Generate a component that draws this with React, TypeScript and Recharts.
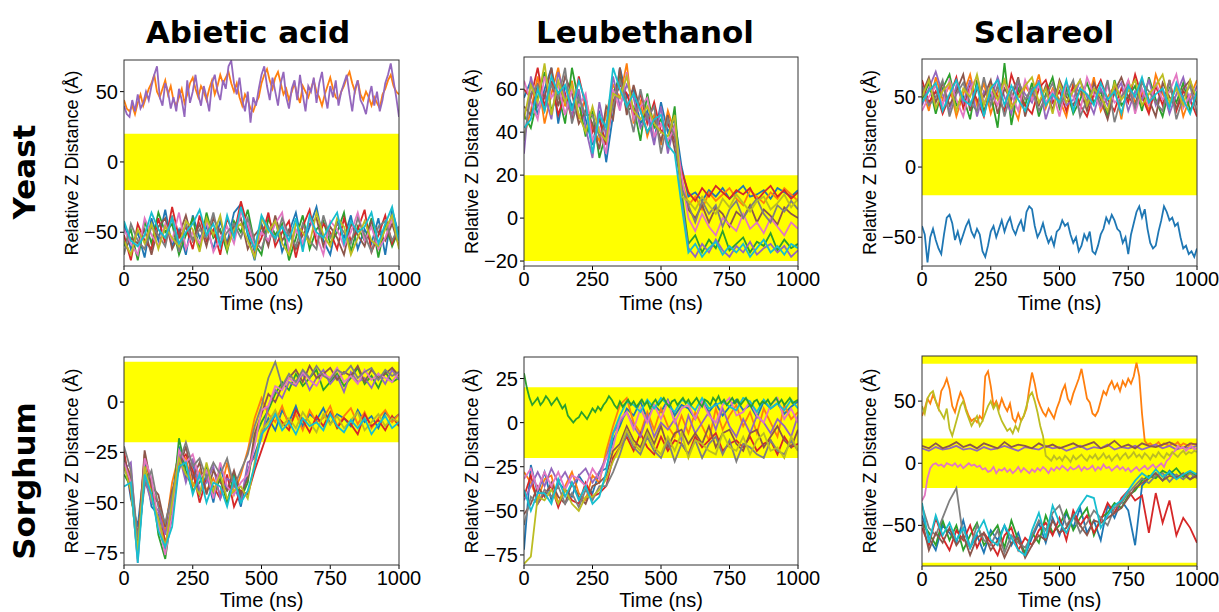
import { LineChart, Line, XAxis, YAxis, ReferenceArea } from "recharts";

// time axes (ns): coarse for the dense bundles, fine for the lone traces
const TIME = [
  0, 25, 50, 75, 100, 125, 150, 175, 200, 225, 250, 275, 300, 325, 350, 375, 400, 425, 450, 475,
  500, 525, 550, 575, 600, 625, 650, 675, 700, 725, 750, 775, 800, 825, 850, 875, 900, 925, 950, 975, 1000,
];
const TIME_FINE = [
  0, 10, 20, 30, 40, 50, 60, 70, 80, 90, 100, 110, 120, 130, 140, 150, 160, 170, 180, 190,
  200, 210, 220, 230, 240, 250, 260, 270, 280, 290, 300, 310, 320, 330, 340, 350, 360, 370, 380, 390,
  400, 410, 420, 430, 440, 450, 460, 470, 480, 490, 500, 510, 520, 530, 540, 550, 560, 570, 580, 590,
  600, 610, 620, 630, 640, 650, 660, 670, 680, 690, 700, 710, 720, 730, 740, 750, 760, 770, 780, 790,
  800, 810, 820, 830, 840, 850, 860, 870, 880, 890, 900, 910, 920, 930, 940, 950, 960, 970, 980, 990, 1000,
];
const X_TICKS = [0, 250, 500, 750, 1000];

const COLS = ["Abietic acid", "Leubethanol", "Sclareol"];
const ROWS = ["Yeast", "Sorghum"];

const TAB = {
  blue: "#1f77b4", orange: "#ff7f0e", green: "#2ca02c", red: "#d62728", purple: "#9467bd",
  brown: "#8c564b", pink: "#e377c2", gray: "#7f7f7f", olive: "#bcbd22", cyan: "#17becf",
};

// ---- Yeast / Abietic acid
const yaOrange = [
  44,38,36,40,34,42,48,40,46,52, 56,62,50,46,52,58,48,54,44,40, 46,52,42,48,56,60,52,46,54,50,
  44,52,58,48,54,62,56,60,64,56, 50,56,46,40,48,44,38,36,42,46, 56,62,66,58,52,60,64,56,48,52,
  44,50,56,48,42,54,50,46,52,58, 50,46,40,48,54,60,52,46,44,50, 54,60,64,56,50,58,48,44,50,46,
  40,46,42,38,48,52,58,62,54,50, 48,
];
const yaPurple = [
  40,34,32,44,36,48,38,42,50,44, 54,62,68,46,40,56,50,38,46,36, 52,44,32,58,42,50,62,48,40,54,
  46,36,56,62,50,44,58,52,68,72, 56,48,60,44,36,50,28,46,40,52, 62,68,54,44,60,50,40,56,64,46,
  38,52,58,44,62,48,36,54,50,60, 42,56,64,48,38,54,46,58,40,50, 56,62,48,36,52,58,44,40,34,46,
  54,40,50,36,44,56,62,70,58,46, 32,
];
const yaBlue = [-44,-62,-50,-68,-40,-56,-34,-60,-48,-66,-38,-54,-46,-62,-42,-58,-36,-30,-52,-70,-44,-58,-40,-64,-50,-36,-60,-46,-32,-56,-66,-42,-54,-38,-62,-48,-58,-40,-66,-34,-52];
const yaGreen = [-60,-48,-70,-42,-58,-36,-50,-44,-66,-52,-40,-62,-36,-54,-48,-64,-42,-50,-34,-58,-66,-40,-52,-44,-70,-54,-38,-62,-48,-42,-58,-50,-36,-64,-46,-56,-40,-68,-44,-60,-48];
const yaRed = [-52,-70,-44,-56,-62,-40,-58,-32,-54,-46,-62,-38,-56,-48,-66,-40,-52,-28,-46,-64,-54,-36,-60,-50,-42,-68,-46,-34,-58,-44,-50,-62,-40,-56,-48,-34,-64,-52,-38,-58,-46];
const yaBrown = [-64,-54,-58,-48,-66,-46,-40,-62,-52,-38,-56,-44,-60,-40,-50,-58,-46,-40,-62,-52,-46,-60,-38,-56,-48,-62,-52,-44,-40,-60,-46,-54,-66,-44,-52,-60,-42,-50,-56,-44,-60];
const yaPink = [-48,-58,-66,-40,-52,-60,-44,-56,-36,-62,-50,-58,-42,-64,-54,-46,-58,-36,-44,-60,-50,-56,-44,-36,-64,-48,-58,-40,-52,-66,-42,-48,-60,-50,-36,-56,-46,-62,-54,-40,-56];
const yaGray = [-66,-44,-56,-62,-46,-52,-60,-38,-64,-44,-56,-48,-54,-36,-58,-50,-44,-54,-40,-56,-62,-46,-56,-40,-52,-60,-44,-56,-62,-38,-54,-44,-50,-58,-40,-52,-64,-46,-42,-56,-46];
const yaOlive = [-56,-66,-48,-58,-44,-62,-46,-54,-60,-42,-48,-64,-40,-52,-38,-62,-48,-44,-56,-68,-40,-50,-42,-58,-66,-44,-50,-58,-36,-52,-60,-40,-46,-66,-54,-42,-56,-60,-48,-38,-62];
const yaCyan = [-42,-56,-60,-52,-36,-48,-54,-40,-58,-50,-44,-34,-52,-44,-60,-38,-54,-32,-50,-62,-38,-48,-54,-46,-56,-40,-64,-38,-50,-54,-44,-36,-58,-42,-50,-46,-36,-58,-44,-32,-56];

// ---- Yeast / Leubethanol
const ylBlue = [56,64,48,60,70,44,62,52,58,46,34,50,26,48,70,56,60,44,50,36,54,40,46,24,10,12,8,13,10,14,9,12,15,10,11,13,9,14,12,10,13];
const ylOrange = [38,50,66,44,58,70,52,64,46,56,42,36,48,62,56,72,44,54,38,48,34,50,40,18,6,10,4,12,8,11,14,9,6,13,10,7,12,9,14,11,8];
const ylGreen = [48,42,56,68,50,58,44,70,54,38,50,28,40,58,66,50,52,36,58,42,46,32,52,12,-12,-8,-16,-10,-14,-6,-15,-12,-9,-16,-11,-13,-7,-15,-10,-14,-12];
const ylRed = [60,56,70,52,64,48,58,46,66,52,40,46,34,54,62,58,48,58,44,54,40,44,36,22,12,8,14,10,15,12,9,13,11,14,8,12,15,10,13,9,12];
const ylPurple = [30,66,52,58,46,68,56,48,60,42,28,54,38,66,52,62,56,42,48,34,52,30,44,8,-14,-18,-12,-16,-10,-15,-18,-13,-16,-11,-17,-14,-12,-16,-13,-18,-15];
const ylBrown = [52,48,62,56,70,52,66,58,44,50,44,32,52,46,70,48,62,50,40,46,36,48,32,16,4,0,6,-2,5,2,-4,3,0,6,-2,4,1,-3,5,2,0];
const ylPink = [64,54,46,66,56,62,48,60,52,58,36,42,30,60,50,68,46,52,56,38,44,36,42,20,0,-6,2,-4,-8,0,-3,-6,2,-5,-2,-7,0,-4,-8,-2,-5];
const ylGray = [36,58,62,50,62,56,70,44,56,48,48,38,44,52,64,54,40,60,46,52,30,46,38,14,6,-2,8,2,6,-4,4,8,0,5,9,2,-2,6,3,8,4];
const ylOlive = [46,62,54,72,48,64,54,62,48,40,52,40,36,58,56,66,50,46,52,44,40,38,48,10,8,4,10,6,2,9,5,11,7,3,8,10,4,7,11,5,9];
const ylCyan = [42,46,60,50,66,58,62,50,64,54,30,48,42,70,60,52,58,50,40,46,48,34,30,6,-16,-12,-18,-14,-11,-17,-13,-16,-12,-18,-14,-10,-16,-13,-17,-12,-14];

// ---- Yeast / Sclareol
const ysBlue = [
  -42,-48,-68,-50,-44,-52,-58,-62,-48,-36, -34,-40,-52,-46,-54,-48,-42,-38,-46,-50, -44,-48,-60,-64,-56,-46,-42,-50,-44,-38,
  -46,-40,-36,-44,-48,-42,-38,-46,-32,-28, -30,-42,-50,-46,-40,-48,-54,-50,-56,-46, -44,-38,-42,-40,-48,-54,-50,-60,-56,-48,
  -52,-46,-60,-62,-56,-48,-44,-36,-40,-34, -38,-44,-46,-54,-50,-62,-48,-40,-32,-28, -36,-30,-44,-54,-58,-56,-46,-38,-28,-32,
  -38,-36,-42,-40,-50,-58,-56,-62,-60,-64, -58,
];
const ysOrange = [56,40,64,48,58,36,52,66,44,60,38,54,62,46,34,58,50,66,42,56,48,36,60,52,44,64,40,50,58,34,62,46,54,40,66,52,44,58,36,50,62];
const ysGreen = [48,60,38,56,66,44,50,34,62,40,52,28,74,30,56,44,60,36,52,64,42,56,38,48,60,46,54,36,62,44,50,58,40,64,48,36,56,46,60,40,52];
const ysRed = [62,46,54,38,50,64,42,58,48,36,60,50,40,66,52,44,38,56,62,46,54,40,58,44,36,52,62,48,40,56,46,66,50,38,58,44,62,40,54,48,36];
const ysPurple = [44,56,68,52,40,58,46,62,36,54,48,64,50,38,60,52,46,62,34,50,58,44,48,62,50,38,56,44,52,60,40,54,48,62,44,56,38,52,64,46,58];
const ysBrown = [52,64,46,60,44,54,66,40,56,50,62,38,56,48,64,36,54,44,58,40,62,50,44,56,40,60,48,34,54,64,50,44,62,48,36,60,50,42,56,62,44];
const ysPink = [40,50,58,44,62,48,36,56,64,46,54,44,60,52,40,62,48,58,46,54,36,60,50,40,64,52,42,58,46,50,62,38,56,44,60,48,54,66,42,52,50];
const ysGray = [58,44,50,62,36,52,60,46,40,64,44,58,36,54,62,48,56,40,50,60,44,52,62,36,48,56,44,62,32,50,58,42,60,54,46,40,62,34,50,58,38];
const ysOlive = [50,62,42,54,60,40,56,50,66,44,58,48,62,42,50,58,64,46,56,38,60,46,54,62,44,56,50,40,60,48,54,62,44,52,58,66,46,56,44,62,48];
const ysCyan = [46,54,60,40,52,62,48,44,58,36,56,62,44,58,48,40,54,60,44,52,46,62,40,56,52,44,60,48,54,38,58,50,64,46,52,56,42,60,48,38,54];

// ---- Sorghum / Abietic acid
const saBlue = [-26,-48,-62,-30,-52,-56,-74,-48,-22,-38,-30,-46,-36,-50,-32,-44,-40,-52,-34,-26,-16,-8,-14,-4,-10,-2,-12,-6,-9,-3,-11,-6,-8,-12,-4,-10,-7,-13,-5,-9,-6];
const saOrange = [-30,-36,-70,-26,-44,-50,-64,-40,-26,-28,-42,-34,-44,-38,-46,-30,-46,-36,-24,-8,2,-6,-10,-2,-12,-6,-14,-4,-10,-8,-2,-12,-7,-3,-11,-5,-13,-8,-4,-10,-6];
const saGreen = [-36,-42,-78,-34,-40,-66,-78,-54,-18,-34,-44,-40,-32,-46,-38,-50,-36,-48,-40,-18,-10,-4,4,10,6,14,8,12,16,6,10,14,8,12,17,9,13,7,15,10,12];
const saRed = [-24,-46,-66,-40,-46,-50,-70,-58,-30,-26,-34,-50,-38,-42,-48,-36,-52,-44,-46,-34,-24,-14,-6,-10,-14,-4,-9,-15,-7,-12,-5,-13,-8,-11,-16,-6,-12,-9,-14,-7,-12];
const saPurple = [-34,-30,-74,-38,-50,-54,-66,-50,-26,-40,-28,-44,-40,-32,-48,-38,-40,-50,-30,-28,-18,-2,6,2,10,8,14,6,12,16,9,13,5,15,10,12,7,14,9,16,11];
const saBrown = [-28,-38,-72,-24,-42,-46,-62,-44,-34,-22,-38,-30,-46,-34,-40,-44,-34,-46,-38,-16,-6,4,0,8,12,16,10,18,12,14,17,11,15,13,18,10,16,12,14,17,13];
const saPink = [-30,-40,-80,-28,-38,-60,-76,-56,-24,-30,-26,-38,-34,-48,-30,-42,-46,-40,-36,-22,-4,-2,8,6,12,9,15,11,8,14,12,17,10,13,9,16,11,14,12,10,15];
const saGray = [-22,-34,-68,-42,-34,-52,-60,-46,-30,-20,-32,-28,-38,-30,-36,-28,-42,-34,-26,-12,-2,12,20,8,14,10,16,12,18,13,11,16,14,18,12,15,17,11,16,13,15];
const saOlive = [-32,-44,-74,-32,-48,-58,-72,-50,-28,-36,-40,-46,-30,-44,-36,-48,-44,-42,-48,-30,-14,-10,-4,-12,-8,-13,-5,-10,-15,-6,-11,-7,-13,-9,-5,-14,-10,-6,-12,-8,-10];
const saCyan = [-42,-40,-80,-36,-46,-64,-72,-62,-32,-30,-46,-36,-50,-40,-42,-52,-38,-50,-44,-32,-16,-12,-6,-14,-10,-16,-8,-12,-10,-14,-6,-12,-15,-9,-13,-8,-16,-11,-7,-13,-10];

// ---- Sorghum / Leubethanol
const slGreen = [
  28,20,14,10,12,14,10,12,15,13, 10,12,14,11,8,10,4,2,0,2, 3,6,4,2,5,8,6,9,7,10,
  12,15,13,10,8,12,9,11,13,10, 12,9,11,13,10,12,8,11,13,10, 12,14,11,9,12,13,10,12,14,11,
  13,10,12,14,11,9,13,12,10,14, 12,15,11,13,10,12,14,11,13,10, 12,14,11,9,12,13,10,12,11,13,
  10,12,14,11,13,10,12,14,11,12, 13,
];
const slBlue = [-72,-24,-40,-28,-44,-34,-38,-42,-30,-36,-40,-28,-26,-10,-2,8,4,12,2,10,6,13,4,10,8,2,12,6,11,4,9,13,7,10,3,12,8,11,5,9,12];
const slOrange = [-28,-34,-44,-32,-30,-46,-36,-28,-40,-44,-30,-34,-16,-2,10,14,0,-6,6,-4,8,-2,-8,4,-6,6,-2,-10,8,-4,4,10,-2,6,-6,8,0,-8,10,2,6];
const slRed = [-42,-30,-46,-40,-36,-48,-38,-44,-46,-34,-42,-40,-36,-20,-14,-8,-16,-6,-14,-18,-8,-16,-10,-12,-18,-8,-14,-10,-6,-16,-12,-10,-14,-8,-16,-12,-10,-18,-8,-14,-12];
const slPurple = [-44,-36,-28,-36,-26,-34,-28,-36,-30,-26,-34,-28,-20,-6,0,6,-2,-8,4,-8,0,-4,2,-10,4,-6,0,6,-4,8,-2,-8,2,-6,4,0,-6,2,-2,-8,4];
const slBrown = [-52,-46,-36,-42,-34,-42,-46,-34,-42,-46,-36,-34,-30,-16,-12,-2,-10,-14,-4,-12,-2,-14,-6,-4,-12,-6,-12,-2,-14,-6,-4,-12,-16,-6,-4,-14,-8,-2,-10,-14,-4];
const slPink = [-32,-26,-38,-28,-36,-28,-38,-30,-32,-36,-26,-32,-20,-14,2,6,-4,8,0,10,2,12,0,8,10,2,12,4,0,10,14,4,6,12,4,0,10,14,2,8,0];
const slGray = [-58,-42,-46,-38,-42,-36,-46,-40,-48,-38,-44,-36,-36,-28,-18,-6,-14,-18,-8,-16,-20,-10,-22,-12,-18,-10,-20,-12,-8,-18,-10,-22,-12,-14,-18,-20,-10,-16,-18,-10,-16];
const slOlive = [-80,-76,-42,-44,-38,-46,-38,-46,-50,-42,-42,-38,-32,-22,-14,-4,-12,-16,-6,-14,-18,-8,-16,-6,-20,-10,-12,-16,-18,-6,-14,-16,-8,-18,-10,-6,-16,-14,-20,-8,-16];
const slCyan = [-38,-50,-40,-40,-46,-32,-42,-34,-44,-36,-46,-42,-28,-6,4,12,10,6,13,8,14,10,6,13,11,7,14,8,10,12,9,7,14,12,6,13,8,11,7,13,8];

// ---- Sorghum / Sclareol
const ssOrange = [
  38,44,52,48,55,50,44,58,62,68, 60,46,41,50,57,52,44,38,34,36, 33,38,35,70,74,62,46,50,44,52,
  46,42,48,36,33,40,34,38,44,60, 73,64,52,46,41,38,44,40,36,44, 50,58,63,52,48,56,62,68,76,64,
  52,49,40,38,42,50,58,55,62,66, 60,64,58,66,62,68,64,70,81,70, 40,18,15,16,14,15,17,14,16,15,
  14,16,15,17,14,16,15,14,16,15, 16,
];
const ssOlive = [
  46,40,52,56,58,50,44,40,36,44, 28,22,30,38,46,50,42,36,30,34, 38,30,34,40,46,50,44,48,40,34,
  30,26,28,24,30,26,34,38,46,54, 57,50,41,30,22,6,4,2,6,3, 5,2,6,4,1,6,3,5,7,4,
  2,6,4,7,3,5,8,4,6,2, 5,7,3,6,8,4,6,9,5,7, 4,8,6,3,7,5,9,6,4,8,
  6,9,7,5,8,10,7,9,8,10, 9,
];
const ssPink = [
  -30,-26,-12,-4,-1,0,-2,-1,-3,0, -1,-2,0,-3,-1,-4,-2,0,-2,-1, -3,-2,-5,-4,-7,-6,-3,-8,-5,-6,
  -4,-7,-5,-8,-6,-3,-7,-4,-6,-8, -5,-7,-4,-6,-3,-5,-8,-4,-6,-3, -5,-2,-4,-6,-3,-5,-4,-2,-6,-3,
  -5,-4,-2,-6,-3,-5,-1,-4,-3,-6, -4,-2,-5,-3,-6,-4,-7,-5,-3,-6, -4,-2,-5,-3,-1,-4,-2,0,-3,2,
  4,8,10,14,12,13,10,12,14,11, 12,
];
const ssPurple = [12,10,13,11,12,14,11,12,10,13,11,12,14,12,10,13,12,11,14,12,13,10,12,14,11,13,12,15,11,13,12,14,11,13,15,12,14,11,13,12,14];
const ssBrown = [14,12,16,12,14,17,13,15,12,16,14,12,17,13,15,14,12,16,13,15,12,14,16,13,15,17,12,14,18,13,15,12,16,14,13,15,17,14,12,16,15];
const ssBlue = [-42,-60,-70,-50,-56,-64,-46,-68,-58,-72,-54,-62,-50,-66,-56,-74,-60,-48,-64,-44,-58,-40,-52,-36,-56,-46,-62,-34,-44,-30,-38,-66,-18,-12,-8,-14,-6,-11,-9,-13,-8];
const ssRed = [-52,-66,-44,-60,-70,-54,-62,-50,-68,-56,-64,-74,-58,-52,-70,-60,-66,-54,-48,-58,-44,-62,-38,-50,-42,-56,-46,-32,-40,-28,-22,-30,-26,-56,-24,-48,-30,-58,-44,-52,-64];
const ssGreen = [-48,-56,-66,-46,-62,-50,-70,-58,-48,-66,-58,-50,-68,-46,-62,-72,-56,-64,-42,-56,-50,-38,-54,-44,-36,-58,-44,-40,-32,-36,-26,-22,-14,-10,-12,-6,-9,-4,-11,-7,-10];
const ssGray = [-34,-52,-58,-44,-30,-20,-60,-68,-50,-62,-66,-54,-72,-58,-64,-68,-58,-46,-54,-40,-34,-50,-42,-56,-48,-38,-44,-50,-36,-32,-24,-18,-12,-16,-10,-8,-15,-9,-13,-8,-12];
const ssCyan = [-32,-64,-42,-58,-48,-62,-52,-68,-56,-46,-62,-66,-50,-60,-70,-74,-54,-40,-60,-34,-48,-56,-44,-34,-26,-28,-52,-42,-34,-30,-22,-14,-8,-12,-5,-11,-7,-13,-9,-6,-9];
const ssBrown2 = [-46,-70,-56,-64,-52,-66,-58,-74,-60,-56,-70,-62,-76,-64,-60,-76,-66,-58,-62,-46,-56,-52,-42,-50,-58,-46,-48,-44,-40,-36,-28,-20,-16,-12,-8,-14,-10,-12,-8,-13,-10];

type Series = { color: string; values: number[]; fine?: boolean };
type PanelCfg = {
  x: number; y: number; w: number; h: number;
  domain: [number, number];
  ticks: number[];
  bands: [number, number][];
  lines: Series[];
};

const YW = 60;
const MT = 5;
const MR = 30;
const XH = 30;
const AXIS_FONT = "'Liberation Sans', Arial, sans-serif";
const TITLE_FONT = "'DejaVu Sans', sans-serif";

const PANELS: PanelCfg[] = [
  {
    x: 124, y: 60, w: 275, h: 206, domain: [-74, 72.5], ticks: [-50, 0, 50], bands: [[-20, 20]],
    lines: [
      { color: TAB.blue, values: yaBlue }, { color: TAB.orange, values: yaOrange, fine: true },
      { color: TAB.green, values: yaGreen }, { color: TAB.red, values: yaRed },
      { color: TAB.purple, values: yaPurple, fine: true }, { color: TAB.brown, values: yaBrown },
      { color: TAB.pink, values: yaPink }, { color: TAB.gray, values: yaGray },
      { color: TAB.olive, values: yaOlive }, { color: TAB.cyan, values: yaCyan },
    ],
  },
  {
    x: 524, y: 57, w: 274, h: 209, domain: [-22.3, 75], ticks: [-20, 0, 20, 40, 60], bands: [[-20, 20]],
    lines: [
      { color: TAB.blue, values: ylBlue }, { color: TAB.orange, values: ylOrange },
      { color: TAB.green, values: ylGreen }, { color: TAB.red, values: ylRed },
      { color: TAB.purple, values: ylPurple }, { color: TAB.brown, values: ylBrown },
      { color: TAB.pink, values: ylPink }, { color: TAB.gray, values: ylGray },
      { color: TAB.olive, values: ylOlive }, { color: TAB.cyan, values: ylCyan },
    ],
  },
  {
    x: 922, y: 59, w: 275, h: 207, domain: [-70.5, 77], ticks: [-50, 0, 50], bands: [[-20, 20]],
    lines: [
      { color: TAB.blue, values: ysBlue, fine: true }, { color: TAB.orange, values: ysOrange },
      { color: TAB.green, values: ysGreen }, { color: TAB.red, values: ysRed },
      { color: TAB.purple, values: ysPurple }, { color: TAB.brown, values: ysBrown },
      { color: TAB.pink, values: ysPink }, { color: TAB.gray, values: ysGray },
      { color: TAB.olive, values: ysOlive }, { color: TAB.cyan, values: ysCyan },
    ],
  },
  {
    x: 124, y: 357, w: 275, h: 208, domain: [-81, 22.4], ticks: [-75, -50, -25, 0], bands: [[-20, 20]],
    lines: [
      { color: TAB.blue, values: saBlue }, { color: TAB.orange, values: saOrange },
      { color: TAB.green, values: saGreen }, { color: TAB.red, values: saRed },
      { color: TAB.purple, values: saPurple }, { color: TAB.brown, values: saBrown },
      { color: TAB.pink, values: saPink }, { color: TAB.gray, values: saGray },
      { color: TAB.olive, values: saOlive }, { color: TAB.cyan, values: saCyan },
    ],
  },
  {
    x: 524, y: 357, w: 274, h: 208, domain: [-80.7, 37.2], ticks: [-75, -50, -25, 0, 25], bands: [[-20, 20]],
    lines: [
      { color: TAB.blue, values: slBlue }, { color: TAB.orange, values: slOrange },
      { color: TAB.red, values: slRed }, { color: TAB.purple, values: slPurple },
      { color: TAB.brown, values: slBrown }, { color: TAB.pink, values: slPink },
      { color: TAB.gray, values: slGray }, { color: TAB.olive, values: slOlive },
      { color: TAB.cyan, values: slCyan }, { color: TAB.green, values: slGreen, fine: true },
    ],
  },
  {
    x: 922, y: 356, w: 275, h: 210, domain: [-82.7, 86.3], ticks: [-50, 0, 50],
    bands: [[80, 86.3], [-20, 20], [-82.7, -80]],
    lines: [
      { color: TAB.blue, values: ssBlue }, { color: TAB.orange, values: ssOrange, fine: true },
      { color: TAB.green, values: ssGreen }, { color: TAB.red, values: ssRed },
      { color: TAB.purple, values: ssPurple }, { color: TAB.brown, values: ssBrown },
      { color: TAB.pink, values: ssPink, fine: true }, { color: TAB.gray, values: ssGray },
      { color: TAB.olive, values: ssOlive, fine: true }, { color: TAB.brown, values: ssBrown2 },
      { color: TAB.cyan, values: ssCyan },
    ],
  },
];

const fmt = (v: number) => (v < 0 ? `\u2212${Math.abs(v)}` : `${v}`);

function Panel({ cfg }: { cfg: PanelCfg }) {
  return (
    <div style={{ position: "absolute", left: cfg.x - YW, top: cfg.y - MT }}>
      <LineChart
        width={cfg.w + YW + MR}
        height={cfg.h + MT + XH}
        margin={{ top: MT, right: MR, left: 0, bottom: 0 }}
      >
        <XAxis
          dataKey="t"
          type="number"
          domain={[0, 1000]}
          ticks={X_TICKS}
          allowDataOverflow
          height={XH}
          axisLine={false}
          tickSize={4}
          tickMargin={2}
          tickLine={{ stroke: "#000" }}
          tick={{ fontSize: 20, fill: "#000", fontFamily: AXIS_FONT }}
          interval={0}
        />
        <YAxis
          type="number"
          domain={cfg.domain}
          ticks={cfg.ticks}
          allowDataOverflow
          width={YW}
          axisLine={false}
          tickSize={4}
          tickMargin={2}
          tickLine={{ stroke: "#000" }}
          tick={{ fontSize: 20, fill: "#000", fontFamily: AXIS_FONT }}
          tickFormatter={fmt}
          interval={0}
        />
        {cfg.bands.map((b, i) => (
          <ReferenceArea key={i} y1={b[0]} y2={b[1]} fill="#ffff00" fillOpacity={1} stroke="none" />
        ))}
        {cfg.lines.map((l, j) => {
          const times = l.fine ? TIME_FINE : TIME;
          const data = l.values.map((v, i) => ({ t: times[i], v }));
          return (
            <Line
              key={j}
              data={data}
              dataKey="v"
              type="linear"
              stroke={l.color}
              strokeWidth={1.8}
              dot={false}
              activeDot={false}
              isAnimationActive={false}
            />
          );
        })}
      </LineChart>
    </div>
  );
}

export default function App() {
  const colCenters = [248, 645, 1044];
  const rowCenters = [172, 481];
  return (
    <div style={{ position: "absolute", left: 0, top: 0, width: 1219, height: 612, background: "#fff", overflow: "hidden" }}>
      {PANELS.map((p, i) => (
        <Panel key={i} cfg={p} />
      ))}
      <svg width={1219} height={612} style={{ position: "absolute", left: 0, top: 0, pointerEvents: "none" }}>
        {COLS.map((c, i) => (
          <text key={c} x={colCenters[i]} y={43} textAnchor="middle" fontFamily={TITLE_FONT} fontWeight="bold" fontSize={31}>
            {c}
          </text>
        ))}
        {ROWS.map((r, i) => (
          <text
            key={r}
            transform={`translate(35 ${rowCenters[i]}) rotate(-90)`}
            textAnchor="middle"
            fontFamily={TITLE_FONT}
            fontWeight="bold"
            fontSize={31}
          >
            {r}
          </text>
        ))}
        {PANELS.map((p, i) => (
          <g key={i}>
            <rect x={p.x} y={p.y} width={p.w} height={p.h} fill="none" stroke="#333" strokeWidth={1} />
            <text
              transform={`translate(${p.x - 46} ${p.y + p.h / 2}) rotate(-90)`}
              textAnchor="middle"
              fontFamily={AXIS_FONT}
              fontSize={18}
            >
              Relative Z Distance (Å)
            </text>
            <text x={p.x + p.w / 2} y={i < 3 ? 310 : 607} textAnchor="middle" fontFamily={AXIS_FONT} fontSize={20}>
              Time (ns)
            </text>
          </g>
        ))}
      </svg>
    </div>
  );
}
